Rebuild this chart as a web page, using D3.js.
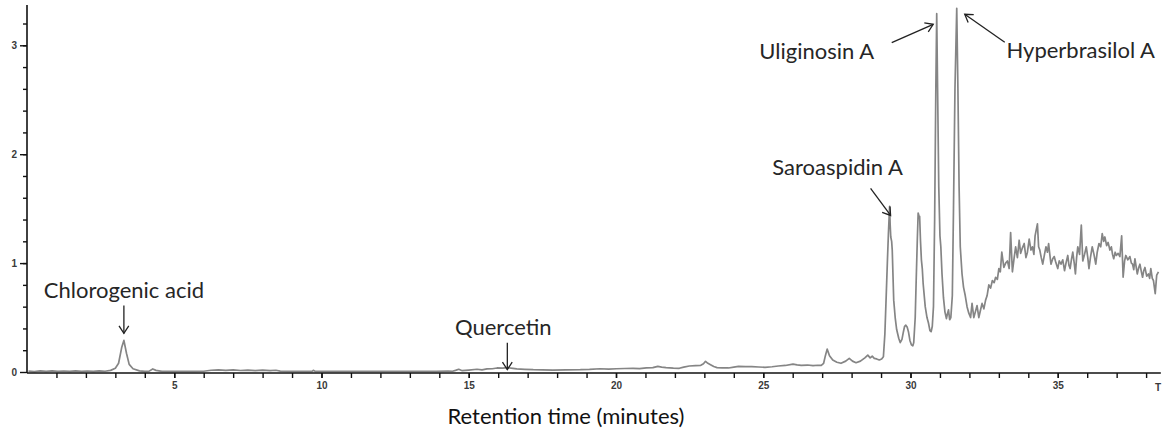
<!DOCTYPE html>
<html>
<head>
<meta charset="utf-8">
<script src="https://cdn.jsdelivr.net/npm/d3@7"></script>
<style>
  body { margin: 0; background: #fff; }
  svg { display: block; }
</style>
</head>
<body>
<svg id="chart" width="1165" height="433"></svg>
<script>
// --------------------------------------------------------------------------
// Data: [retention time (min), signal]
// --------------------------------------------------------------------------
const chromatogram = [
  [0.05,0.008],[0.25,0.004],[0.45,0.010],[0.65,0.006],[0.85,0.011],[1.05,0.005],[1.25,0.009],
  [1.45,0.006],[1.65,0.010],[1.85,0.005],[2.05,0.009],[2.25,0.006],[2.45,0.010],[2.65,0.007],
  [2.84,0.015],[3.0,0.035],[3.11,0.08],[3.22,0.23],[3.29,0.29],[3.38,0.17],[3.47,0.07],[3.6,0.03],
  [3.82,0.01],[4.0,0.006],[4.15,0.008],[4.27,0.028],[4.38,0.015],[4.58,0.006],
  [4.9,0.005],[5.3,0.006],[5.7,0.005],[6.0,0.007],[6.25,0.016],[6.5,0.02],[6.75,0.015],[7.0,0.019],
  [7.25,0.014],[7.5,0.018],[7.75,0.013],[8.0,0.017],[8.25,0.012],[8.45,0.016],[8.6,0.008],[9.0,0.006],
  [9.4,0.007],[9.68,0.006],[9.72,0.015],[9.78,0.006],[10.3,0.005],[10.9,0.006],[11.5,0.005],
  [12.1,0.006],[12.7,0.005],[13.3,0.006],[13.9,0.006],[14.3,0.008],[14.45,0.007],
  [14.55,0.015],[14.66,0.025],[14.78,0.012],[15.0,0.018],[15.28,0.025],[15.45,0.02],[15.62,0.028],
  [15.8,0.03],[15.96,0.037],[16.15,0.035],[16.31,0.04],[16.5,0.033],[16.63,0.028],[16.9,0.024],
  [17.19,0.021],[17.5,0.02],[17.86,0.018],[18.3,0.02],[18.79,0.021],[19.1,0.024],[19.46,0.03],
  [19.75,0.027],[20.02,0.03],[20.3,0.032],[20.58,0.034],[20.8,0.031],[21.03,0.037],[21.25,0.04],
  [21.42,0.052],[21.55,0.045],[21.7,0.04],[21.95,0.036],[22.15,0.034],[22.3,0.045],[22.49,0.055],
  [22.7,0.058],[22.88,0.061],[22.97,0.075],[23.04,0.098],[23.12,0.08],[23.21,0.067],[23.32,0.05],
  [23.43,0.04],[23.6,0.038],[23.82,0.037],[24.0,0.045],[24.16,0.052],[24.4,0.05],[24.61,0.049],
  [24.85,0.046],[25.06,0.043],[25.3,0.048],[25.51,0.055],[25.75,0.06],[26.01,0.073],[26.15,0.066],
  [26.29,0.061],[26.5,0.064],[26.69,0.058],[26.85,0.062],[26.97,0.061],
  [27.05,0.08],[27.11,0.15],[27.17,0.21],[27.25,0.15],[27.36,0.11],[27.5,0.09],[27.64,0.08],
  [27.8,0.1],[27.92,0.125],[28.03,0.1],[28.15,0.085],[28.3,0.1],[28.45,0.13],[28.55,0.155],
  [28.63,0.13],[28.7,0.145],[28.77,0.125],[28.85,0.12],[28.94,0.11],[29.02,0.12],[29.08,0.14],
  [29.13,0.35],[29.17,0.66],[29.22,1.05],[29.25,1.27],[29.29,1.52],[29.31,1.35],[29.33,1.24],
  [29.36,1.2],[29.38,1.12],[29.43,0.66],[29.48,0.5],[29.53,0.39],[29.6,0.31],[29.65,0.27],
  [29.71,0.3],[29.76,0.37],[29.8,0.42],[29.84,0.43],[29.89,0.41],[29.93,0.37],[29.98,0.29],
  [30.03,0.25],[30.08,0.24],[30.11,0.27],[30.16,0.5],[30.19,0.81],[30.23,1.2],[30.26,1.46],
  [30.29,1.43],[30.31,1.43],[30.34,1.2],[30.37,1.03],[30.4,0.95],[30.43,0.81],[30.5,0.6],
  [30.56,0.5],[30.61,0.45],[30.66,0.38],[30.7,0.37],[30.74,0.42],[30.78,0.6],[30.82,1.4],
  [30.86,2.6],[30.89,3.29],[30.92,2.6],[30.96,1.7],[31.0,1.25],[31.03,1.15],[31.07,0.9],
  [31.12,0.68],[31.17,0.55],[31.22,0.49],[31.25,0.53],[31.29,0.57],[31.33,0.48],[31.37,0.5],
  [31.42,0.7],[31.46,1.5],[31.51,2.6],[31.57,3.34],[31.61,2.6],[31.65,1.7],[31.69,1.15],
  [31.75,0.9],[31.8,0.78],[31.86,0.7],[31.92,0.6],[31.98,0.54],
  [32.04,0.5],[32.09,0.63],[32.15,0.5],[32.2,0.55],[32.26,0.61],[32.32,0.5],[32.37,0.56],
  [32.43,0.63],[32.49,0.58],[32.55,0.66],[32.6,0.7],[32.66,0.8],[32.72,0.77],[32.78,0.84],
  [32.84,0.82],[32.89,0.87],[32.95,0.85],[33.0,0.95],[33.05,0.92],[33.1,1.1],[33.17,0.96],
  [33.23,1.0],[33.29,1.02],[33.35,0.95],[33.4,1.28],[33.46,0.92],[33.52,1.05],[33.57,1.15],
  [33.63,1.05],[33.69,1.21],[33.74,1.09],[33.8,1.14],[33.86,1.18],[33.92,1.05],[33.97,1.1],
  [34.03,1.22],[34.09,1.12],[34.14,1.15],[34.19,1.08],[34.23,1.25],[34.31,1.36],[34.35,1.15],
  [34.39,1.12],[34.44,1.05],[34.49,0.99],[34.55,1.08],[34.6,1.15],[34.65,1.1],[34.69,1.18],
  [34.73,1.08],[34.77,0.99],[34.83,1.04],[34.88,1.06],[34.94,1.0],[35.0,0.95],[35.05,1.02],
  [35.11,0.99],[35.17,1.03],[35.23,0.93],[35.28,1.0],[35.34,1.07],[35.38,0.98],[35.42,0.95],
  [35.47,1.04],[35.51,1.1],[35.56,1.0],[35.6,0.9],[35.64,1.05],[35.68,1.15],[35.74,1.08],
  [35.8,1.35],[35.85,1.02],[35.91,1.08],[35.97,1.15],[36.02,1.05],[36.06,0.95],[36.11,1.05],
  [36.17,1.15],[36.23,1.08],[36.29,0.99],[36.34,1.1],[36.4,1.18],[36.46,1.15],[36.51,1.27],
  [36.56,1.2],[36.6,1.24],[36.66,1.16],[36.71,1.19],[36.77,1.12],[36.82,1.15],[36.86,1.08],
  [36.9,1.04],[36.95,1.1],[36.99,1.07],[37.05,1.09],[37.11,1.06],[37.17,1.25],[37.22,0.87],
  [37.27,1.02],[37.31,1.07],[37.38,1.03],[37.45,1.06],[37.5,1.0],[37.54,0.99],[37.58,0.94],
  [37.62,1.04],[37.66,0.97],[37.7,0.9],[37.75,0.96],[37.79,0.99],[37.84,0.92],[37.88,0.87],
  [37.92,0.93],[37.96,0.96],[38.02,0.88],[38.08,0.9],[38.12,0.86],[38.16,0.95],[38.21,0.86],
  [38.25,0.84],[38.31,0.72],[38.36,0.89],[38.42,0.92]
];

// Axis ticks
const xMajorTicks = [5, 10, 15, 20, 25, 30, 35];
const yMajorTicks = [0, 1, 2, 3];

// Annotated compounds
const peakNames   = ['Chlorogenic acid', 'Quercetin', 'Saroaspidin A', 'Uliginosin A', 'Hyperbrasilol A'];
const peakTimes   = [3.29, 16.31, 29.29, 30.89, 31.57];
const peakSignals = [0.29, 0.04, 1.52, 3.29, 3.34];

// --------------------------------------------------------------------------
// Layout
// --------------------------------------------------------------------------
const svg = d3.select('#chart');

const x = d3.scaleLinear().domain([0, 38.5]).range([27, 27 + 38.5 * 29.45]);
const y = d3.scaleLinear().domain([0, 3.37]).range([372, 5]);

// arrow tip / tail and label placement, in pixels relative to the peak point
const annotationLayout = [
  { tip: [0, -7],      tail: [0, -35],   text: [0, -42] },
  { tip: [0, 2],       tail: [0, -25],   text: [-4, -33] },
  { tip: [1, 9],       tail: [-19, -18], text: [-52, -31] },
  { tip: [-3.5, 10.6], tail: [-45, 29],  text: [-120, 45.6] },
  { tip: [8, 6],       tail: [48, 34],   text: [124, 50] }
];

const tickFont = 'Liberation Sans, Arial, sans-serif';
const labelFont = 'Lato, Carlito, Calibri, sans-serif';

// --------------------------------------------------------------------------
// Trace
// --------------------------------------------------------------------------
const line = d3.line()
  .x(d => x(d[0]))
  .y(d => y(d[1]));

svg.append('path')
  .datum(chromatogram)
  .attr('d', line)
  .attr('fill', 'none')
  .attr('stroke', '#858585')
  .attr('stroke-width', 1.7)
  .attr('stroke-linejoin', 'round');

// --------------------------------------------------------------------------
// Axes
// --------------------------------------------------------------------------
const xAxis = svg.append('g')
  .attr('transform', `translate(0,${y(0) + 1})`);

xAxis.append('g')
  .call(d3.axisBottom(x).tickValues(d3.range(1, 39)).tickSize(5).tickFormat(''))
  .call(g => g.select('.domain').remove());

xAxis.append('g')
  .call(d3.axisBottom(x).tickValues(xMajorTicks).tickSize(5).tickPadding(4).tickFormat(d3.format('d')))
  .call(g => g.select('.domain').remove())
  .selectAll('text')
  .style('font-family', tickFont)
  .style('font-size', '10px')
  .style('font-weight', 'bold')
  .style('fill', '#3a3a3a');

xAxis.append('line')
  .attr('x1', x(0)).attr('x2', x(38.5))
  .attr('y1', 0).attr('y2', 0);

// cut-off label at the right end of the axis
xAxis.append('text')
  .attr('x', x(38.3))
  .attr('y', 18)
  .style('font-family', tickFont)
  .style('font-size', '10px')
  .style('font-weight', 'bold')
  .style('fill', '#3a3a3a')
  .text('T');

const yAxis = svg.append('g')
  .attr('transform', `translate(${x(0)},0)`);

yAxis.append('g')
  .call(d3.axisLeft(y).tickValues(d3.range(0.2, 3.3, 0.2)).tickSize(4).tickFormat(''))
  .call(g => g.select('.domain').remove());

yAxis.append('g')
  .call(d3.axisLeft(y).tickValues(yMajorTicks).tickSize(7).tickPadding(3).tickFormat(d3.format('d')))
  .call(g => g.select('.domain').remove())
  .selectAll('text')
  .style('font-family', tickFont)
  .style('font-size', '10px')
  .style('font-weight', 'bold')
  .style('fill', '#3a3a3a');

yAxis.append('line')
  .attr('x1', 0).attr('x2', 0)
  .attr('y1', y(3.37)).attr('y2', y(0) + 1);

svg.selectAll('.tick line, g > line')
  .attr('stroke', '#111')
  .attr('stroke-width', 1.4);
xAxis.select(':scope > line').attr('stroke-width', 1.6);
yAxis.select(':scope > line').attr('stroke-width', 1.6);

// --------------------------------------------------------------------------
// Axis title
// --------------------------------------------------------------------------
svg.append('text')
  .attr('x', 566)
  .attr('y', 424)
  .attr('text-anchor', 'middle')
  .style('font-family', labelFont)
  .style('font-size', '22px')
  .style('fill', '#111')
  .text('Retention time (minutes)');

// --------------------------------------------------------------------------
// Peak annotations
// --------------------------------------------------------------------------
const ann = svg.append('g');

peakNames.forEach((name, i) => {
  const px = x(peakTimes[i]);
  const py = y(peakSignals[i]);
  const lay = annotationLayout[i];
  const tip = [px + lay.tip[0], py + lay.tip[1]];
  const tail = [px + lay.tail[0], py + lay.tail[1]];

  // arrow shaft
  ann.append('line')
    .attr('x1', tail[0]).attr('y1', tail[1])
    .attr('x2', tip[0]).attr('y2', tip[1])
    .attr('stroke', '#222')
    .attr('stroke-width', 1.3);

  // open arrow head
  const ang = Math.atan2(tip[1] - tail[1], tip[0] - tail[0]);
  const len = 9, spread = Math.PI / 5.5;
  const head = [
    [tip[0] - len * Math.cos(ang - spread), tip[1] - len * Math.sin(ang - spread)],
    tip,
    [tip[0] - len * Math.cos(ang + spread), tip[1] - len * Math.sin(ang + spread)]
  ];
  ann.append('path')
    .attr('d', d3.line()(head))
    .attr('fill', 'none')
    .attr('stroke', '#222')
    .attr('stroke-width', 1.3);

  ann.append('text')
    .attr('x', px + lay.text[0])
    .attr('y', py + lay.text[1])
    .attr('text-anchor', 'middle')
    .style('font-family', labelFont)
    .style('font-size', '22px')
    .style('fill', '#262626')
    .text(name);
});
</script>
</body>
</html>
